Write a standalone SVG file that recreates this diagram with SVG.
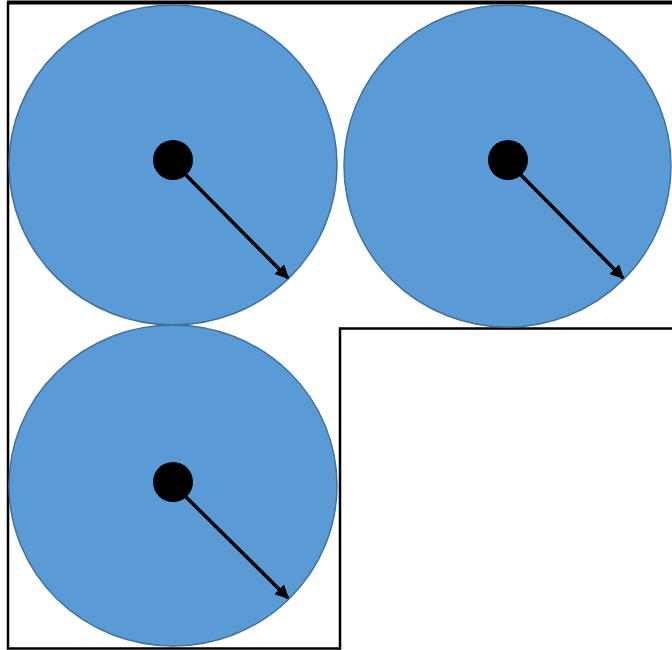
<svg xmlns="http://www.w3.org/2000/svg" width="672" height="650" viewBox="0 0 672 650">
<defs>
<style>
.c{fill:#5b9bd5;stroke:#41719c;stroke-width:1.5}
.d{fill:#000}
.a{stroke:#000;stroke-width:3.5;fill:none;marker-end:url(#ah)}
.b{stroke:#000;fill:none}
</style>
<marker id="ah" viewBox="0 0 10 10" refX="9" refY="5" markerWidth="4" markerHeight="4" orient="auto" markerUnits="strokeWidth">
<path d="M0,0 L10,5 L0,10 z" fill="#000"/>
</marker>
</defs>
<rect width="672" height="650" fill="#fff"/>
<g id="boundary">
<path class="b" stroke-width="4" d="M7,2.5 H672"/>
<path class="b" stroke-width="2.5" d="M8,2 V648.5 H340 V328.5 H672"/>
</g>
<g id="circle1">
<ellipse class="c" cx="173" cy="165" rx="164" ry="160"/>
<circle class="d" cx="173" cy="160" r="20"/>
</g>
<g id="circle2">
<ellipse class="c" cx="507.5" cy="166" rx="163.5" ry="161"/>
<circle class="d" cx="508" cy="160" r="20"/>
</g>
<g id="circle3">
<ellipse class="c" cx="173" cy="485.5" rx="164" ry="160.5"/>
<circle class="d" cx="173" cy="482" r="20"/>
</g>
<g id="connectors">
<line class="a" x1="183" y1="172" x2="288" y2="278"/>
<line class="a" x1="518" y1="172" x2="623" y2="278"/>
<line class="a" x1="183" y1="494" x2="288" y2="598"/>
</g>
</svg>
